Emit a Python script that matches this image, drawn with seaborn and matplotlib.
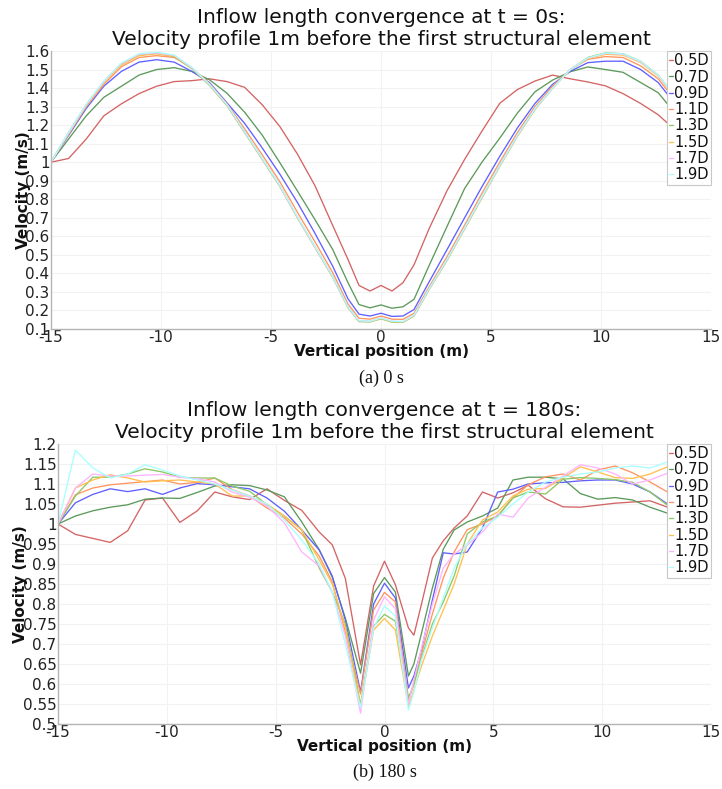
import numpy as np
import pandas as pd
import matplotlib
matplotlib.use("Agg")
import matplotlib.pyplot as plt
import seaborn as sns
from matplotlib.ticker import FuncFormatter, MultipleLocator

# ---------------------------------------------------------------- data
series = ["0.5D", "0.7D", "0.9D", "1.1D", "1.3D", "1.5D", "1.7D", "1.9D"]
colors = ["#d46464", "#5c9a5c", "#6060ff", "#ff9660", "#8cc864", "#ffc050", "#ffb4ff", "#a8ffff"]

# t = 0 s
x_t0 = [-15, -14.2, -13.4, -12.6, -11.8, -11, -10.2, -9.4, -8.6, -7.8, -7, -6.2, -5.4, -4.6,
        -3.8, -3, -2.2, -1.5, -1, -0.5, 0, 0.5, 1, 1.5, 2.2, 3, 3.8, 4.6, 5.4, 6.2, 7, 7.8,
        8.6, 9.4, 10.2, 11, 11.8, 12.6, 13.4, 14.2, 15]
t0_05D = [1.00, 1.02, 1.125, 1.25, 1.315, 1.37, 1.41, 1.435, 1.44, 1.45, 1.435, 1.404, 1.31, 1.193,
          1.044, 0.873, 0.66, 0.475, 0.335, 0.305, 0.335, 0.305, 0.35, 0.446, 0.645, 0.846, 1.015,
          1.17, 1.318, 1.392, 1.438, 1.47, 1.45, 1.433, 1.412, 1.37, 1.317, 1.256, 1.17, 1.08, 1.0]
t0_07D = [1.00, 1.125, 1.25, 1.35, 1.41, 1.47, 1.50, 1.51, 1.49, 1.445, 1.372, 1.27, 1.146, 0.998,
          0.845, 0.69, 0.53, 0.35, 0.232, 0.214, 0.23, 0.212, 0.22, 0.26, 0.446, 0.653, 0.858,
          1.002, 1.13, 1.265, 1.38, 1.443, 1.488, 1.514, 1.50, 1.485, 1.43, 1.375, 1.26, 1.13, 1.0]
t0_09D = [1.00, 1.145, 1.29, 1.41, 1.49, 1.54, 1.553, 1.54, 1.49, 1.43, 1.32, 1.21, 1.077, 0.936,
          0.783, 0.616, 0.44, 0.263, 0.18, 0.17, 0.185, 0.168, 0.17, 0.205, 0.357, 0.528, 0.70,
          0.87, 1.032, 1.185, 1.317, 1.42, 1.49, 1.537, 1.545, 1.545, 1.50, 1.43, 1.31, 1.15, 1.0]
t0_11D = [1.00, 1.15, 1.30, 1.42, 1.515, 1.565, 1.575, 1.565, 1.51, 1.425, 1.315, 1.18, 1.04, 0.895,
          0.73, 0.57, 0.405, 0.235, 0.158, 0.153, 0.17, 0.153, 0.152, 0.185, 0.33, 0.49, 0.66,
          0.835, 1.0, 1.16, 1.30, 1.41, 1.50, 1.555, 1.57, 1.565, 1.52, 1.45, 1.33, 1.16, 1.0]
t0_13D = [1.00, 1.16, 1.31, 1.435, 1.53, 1.578, 1.587, 1.57, 1.505, 1.415, 1.305, 1.16, 1.015, 0.87,
          0.70, 0.54, 0.38, 0.215, 0.14, 0.138, 0.155, 0.137, 0.136, 0.17, 0.315, 0.47, 0.64,
          0.81, 0.978, 1.14, 1.285, 1.40, 1.50, 1.565, 1.59, 1.585, 1.545, 1.47, 1.35, 1.17, 1.0]
t0_15D = [1.00, 1.155, 1.305, 1.43, 1.525, 1.575, 1.585, 1.572, 1.508, 1.418, 1.308, 1.163, 1.018,
          0.872, 0.702, 0.542, 0.382, 0.218, 0.143, 0.14, 0.158, 0.14, 0.138, 0.172, 0.318, 0.473,
          0.643, 0.814, 0.98, 1.142, 1.287, 1.398, 1.498, 1.56, 1.582, 1.578, 1.538, 1.465, 1.345,
          1.165, 1.0]
t0_17D = [1.00, 1.158, 1.31, 1.435, 1.532, 1.582, 1.59, 1.576, 1.51, 1.42, 1.31, 1.165, 1.02, 0.874,
          0.704, 0.544, 0.384, 0.22, 0.145, 0.142, 0.16, 0.142, 0.14, 0.175, 0.32, 0.476, 0.646,
          0.817, 0.983, 1.145, 1.29, 1.40, 1.50, 1.563, 1.587, 1.582, 1.542, 1.47, 1.35, 1.17, 1.0]
t0_19D = [1.00, 1.16, 1.312, 1.437, 1.535, 1.585, 1.593, 1.578, 1.512, 1.421, 1.311, 1.166, 1.021,
          0.875, 0.705, 0.545, 0.385, 0.22, 0.145, 0.142, 0.16, 0.142, 0.14, 0.175, 0.32, 0.476,
          0.646, 0.817, 0.983, 1.145, 1.29, 1.40, 1.50, 1.562, 1.589, 1.584, 1.544, 1.47, 1.35,
          1.17, 1.0]

# t = 180 s
x_t180 = [-15, -14.2, -13.4, -12.6, -11.8, -11.0, -10.2, -9.4, -8.6, -7.8, -7.0, -6.2, -5.4, -4.6,
          -3.8, -3.0, -2.4, -1.8, -1.1, -0.5, 0.0, 0.5, 1.1, 1.35, 1.7, 2.2, 2.7, 3.2, 3.8, 4.5,
          5.2, 5.9, 6.6, 7.4, 8.2, 9.0, 9.8, 10.6, 11.4, 12.2, 13.0, 14.0, 15.0]
t180_05D = [1.0, 0.974, 0.964, 0.954, 0.983, 1.06, 1.065, 1.004, 1.033, 1.08, 1.068, 1.061, 1.088,
            1.059, 1.034, 0.98, 0.948, 0.864, 0.648, 0.845, 0.907, 0.848, 0.74, 0.722, 0.80, 0.915,
            0.958, 0.99, 1.02, 1.08, 1.065, 1.078, 1.097, 1.063, 1.043, 1.042, 1.047, 1.052, 1.055,
            1.058, 1.042, 1.02, 1.0]
t180_07D = [1.0, 1.02, 1.033, 1.042, 1.048, 1.062, 1.065, 1.064, 1.079, 1.095, 1.098, 1.096, 1.085,
            1.068, 1.005, 0.936, 0.867, 0.765, 0.627, 0.826, 0.866, 0.83, 0.62, 0.65, 0.727, 0.84,
            0.937, 0.985, 1.005, 1.02, 1.04, 1.11, 1.117, 1.117, 1.113, 1.076, 1.062, 1.066, 1.06,
            1.042, 1.027, 1.012, 1.0]
t180_09D = [1.0, 1.053, 1.074, 1.088, 1.081, 1.088, 1.074, 1.09, 1.101, 1.098, 1.093, 1.088, 1.065,
            1.032, 0.985, 0.935, 0.87, 0.76, 0.58, 0.80, 0.852, 0.815, 0.59, 0.62, 0.685, 0.81,
            0.928, 0.925, 0.93, 0.99, 1.08, 1.087, 1.10, 1.103, 1.104, 1.108, 1.11, 1.11, 1.10,
            1.08, 1.05, 1.025, 1.0]
t180_11D = [1.0, 1.073, 1.09, 1.098, 1.102, 1.106, 1.11, 1.10, 1.104, 1.115, 1.086, 1.07, 1.04,
            1.015, 0.975, 0.92, 0.855, 0.73, 0.575, 0.785, 0.829, 0.805, 0.56, 0.60, 0.675, 0.775,
            0.865, 0.93, 0.986, 1.0, 1.02, 1.065, 1.098, 1.118, 1.125, 1.11, 1.135, 1.145, 1.128,
            1.105, 1.08, 1.04, 1.0]
t180_13D = [1.0, 1.07, 1.117, 1.117, 1.125, 1.138, 1.13, 1.117, 1.115, 1.115, 1.095, 1.082, 1.048,
            1.02, 0.985, 0.89, 0.83, 0.75, 0.548, 0.745, 0.774, 0.757, 0.565, 0.60, 0.665, 0.75,
            0.805, 0.87, 0.975, 1.005, 1.02, 1.065, 1.08, 1.075, 1.112, 1.116, 1.114, 1.111, 1.104,
            1.08, 1.047, 1.02, 1.0]
t180_15D = [1.0, 1.09, 1.11, 1.123, 1.115, 1.105, 1.108, 1.11, 1.105, 1.10, 1.07, 1.07, 1.05,
            1.02, 0.985, 0.91, 0.85, 0.74, 0.543, 0.735, 0.764, 0.735, 0.543, 0.585, 0.645, 0.72,
            0.785, 0.85, 0.95, 1.01, 1.03, 1.07, 1.087, 1.089, 1.115, 1.143, 1.13, 1.116, 1.114,
            1.125, 1.143, 1.07, 1.0]
t180_17D = [1.0, 1.09, 1.125, 1.12, 1.12, 1.122, 1.124, 1.117, 1.113, 1.105, 1.08, 1.067, 1.045,
            1.003, 0.93, 0.895, 0.83, 0.72, 0.527, 0.76, 0.818, 0.788, 0.55, 0.61, 0.69, 0.80,
            0.89, 0.925, 0.947, 0.98, 1.025, 1.017, 1.065, 1.092, 1.12, 1.148, 1.14, 1.125, 1.10,
            1.11, 1.127, 1.07, 1.0]
t180_19D = [1.0, 1.185, 1.14, 1.115, 1.125, 1.148, 1.135, 1.12, 1.11, 1.10, 1.085, 1.07, 1.05,
            1.01, 0.96, 0.90, 0.83, 0.70, 0.54, 0.74, 0.795, 0.77, 0.535, 0.58, 0.66, 0.74,
            0.815, 0.89, 0.95, 0.99, 1.017, 1.05, 1.08, 1.105, 1.117, 1.125, 1.13, 1.14, 1.145,
            1.14, 1.155, 1.08, 1.0]

t0_values = [t0_05D, t0_07D, t0_09D, t0_11D, t0_13D, t0_15D, t0_17D, t0_19D]
t180_values = [t180_05D, t180_07D, t180_09D, t180_11D, t180_13D, t180_15D, t180_17D, t180_19D]


def long_table(x, columns):
    rows = []
    for name, vals in zip(series, columns):
        rows.append(pd.DataFrame({"position": x, "velocity": vals, "length": name}))
    return pd.concat(rows, ignore_index=True)


# ---------------------------------------------------------------- style
sns.set_theme(style="white")
plt.rcParams["font.family"] = ["DejaVu Sans"]
plt.rcParams["axes.unicode_minus"] = False

W, H = 722, 789
fig = plt.figure(figsize=(W / 100, H / 100), dpi=100)


def px_axes(left, top, right, bottom):
    return fig.add_axes([left / W, 1 - bottom / H, (right - left) / W, (bottom - top) / H])


def fmt(v, _):
    return f"{v:.2f}".rstrip("0").rstrip(".")


def panel(ax, x, columns, ylim, ystep, title):
    data = long_table(x, columns)
    sns.lineplot(data=data, x="position", y="velocity", hue="length", hue_order=series,
                 palette=colors, linewidth=0.95, sort=False, estimator=None, ax=ax)
    ax.set_xlim(-15, 15)
    ax.set_ylim(*ylim)
    ax.xaxis.set_major_locator(MultipleLocator(5))
    ax.yaxis.set_major_locator(MultipleLocator(ystep))
    ax.yaxis.set_major_formatter(FuncFormatter(fmt))
    ax.grid(True, color="#f2f2f2", linewidth=0.8)
    ax.set_axisbelow(True)
    for s in ("top", "right"):
        ax.spines[s].set_visible(False)
    for s in ("left", "bottom"):
        ax.spines[s].set_color("#b4b4b4")
        ax.spines[s].set_linewidth(1.0)
    ax.tick_params(axis="both", length=0, pad=1, labelsize=11, colors="#222222")
    ax.set_xlabel("Vertical position (m)", fontsize=11, fontweight="bold", color="#111111",
                  labelpad=-1)
    ax.set_ylabel("Velocity (m/s)", fontsize=11, fontweight="bold", color="#111111",
                  labelpad=-4)
    ax.set_title(title, fontsize=14.5, color="#111111", pad=4, linespacing=1.2)
    leg = ax.legend(loc="upper right", bbox_to_anchor=(1.0, 1.0), borderaxespad=0,
                    fontsize=10.5, handlelength=0.3, handletextpad=0.05, borderpad=0.15,
                    labelspacing=0.09, frameon=True, fancybox=False, framealpha=1.0,
                    edgecolor="#c8c8c8", title=None)
    leg.get_frame().set_linewidth(0.8)
    for t in leg.get_texts():
        t.set_color("#111111")


ax1 = px_axes(51, 51, 711, 329)
panel(ax1, x_t0, t0_values, (0.1, 1.6), 0.1,
      "Inflow length convergence at t = 0s:\nVelocity profile 1m before the first structural element")

ax2 = px_axes(58, 444, 711, 724)
panel(ax2, x_t180, t180_values, (0.5, 1.2), 0.05,
      "Inflow length convergence at t = 180s:\nVelocity profile 1m before the first structural element")

fig.text(381 / W, 1 - 378 / H, "(a) 0 s", ha="center", va="center",
         family="Liberation Serif", fontsize=13, color="#111111")
fig.text(385 / W, 1 - 772 / H, "(b) 180 s", ha="center", va="center",
         family="Liberation Serif", fontsize=13, color="#111111")

fig.savefig("out.png", dpi=100)
